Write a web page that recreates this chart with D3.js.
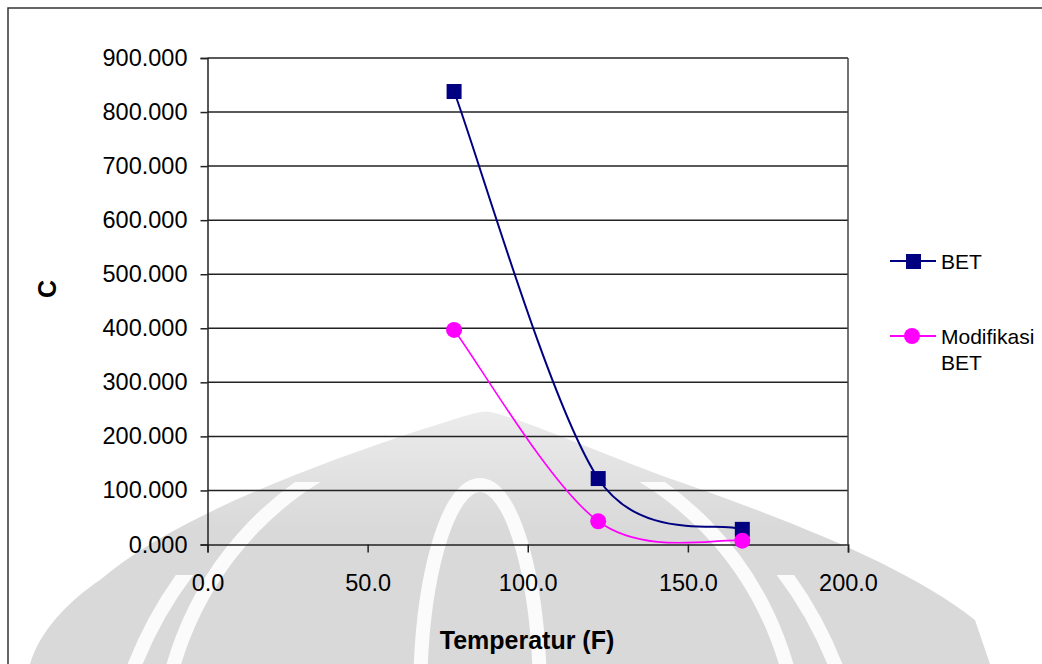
<!DOCTYPE html>
<html>
<head>
<meta charset="utf-8">
<script src="https://cdn.jsdelivr.net/npm/d3@7"></script>
<style>
  body { margin: 0; background: #fff; }
  text { font-family: "Liberation Sans", Arial, sans-serif; }
</style>
</head>
<body>
<svg></svg>
<script>
// data (temperatures 25/50/75 C in F)
const temps = [77, 122, 167];
const betC = [838, 122, 28];
const modC = [397, 43, 7];
const seriesNames = ["BET", "Modifikasi BET"];
const yTicks = [0, 100, 200, 300, 400, 500, 600, 700, 800, 900];
const xTicks = [0, 50, 100, 150, 200];

const W = 1042, H = 664;
const margin = { top: 58, right: 194, bottom: 119.5, left: 207.5 };
const width = W - margin.left - margin.right;
const height = H - margin.top - margin.bottom;

const svg = d3.select("svg").attr("width", W).attr("height", H);

// faint watermark behind the chart
const defs = svg.append("defs");
const grad = defs.append("linearGradient").attr("id", "wmfade")
  .attr("gradientUnits", "userSpaceOnUse").attr("x1", 0).attr("y1", 410).attr("x2", 0).attr("y2", 530);
grad.append("stop").attr("offset", 0).attr("stop-color", "#ececec");
grad.append("stop").attr("offset", 1).attr("stop-color", "#d9d9d9");
defs.append("clipPath").attr("id", "lowclip").append("rect")
  .attr("x", 0).attr("y", 482).attr("width", W).attr("height", 200);
defs.append("clipPath").attr("id", "lowclip2").append("rect")
  .attr("x", 0).attr("y", 575).attr("width", W).attr("height", 100);

const wm = svg.append("g").attr("id", "watermark");
wm.append("path")
  .attr("d", "M30,664 C40,630 70,600 100,580 C170,520 300,470 420,430 C460,418 478,410 490,412 C520,418 580,445 660,475 C760,510 900,560 975,620 L990,664 Z")
  .attr("fill", "url(#wmfade)");
const stripes = [
  { cx: 480, cy: 700, rx: 60, ry: 215, clip: null },
  { cx: 480, cy: 760, rx: 320, ry: 330, clip: "url(#lowclip)" },
  { cx: 485, cy: 820, rx: 380, ry: 400, clip: "url(#lowclip2)" }
];
wm.selectAll("ellipse").data(stripes).join("ellipse")
  .attr("cx", d => d.cx).attr("cy", d => d.cy).attr("rx", d => d.rx).attr("ry", d => d.ry)
  .attr("clip-path", d => d.clip)
  .attr("fill", "none").attr("stroke", "#fbfbfb").attr("stroke-width", 14);

// chart area border
svg.append("rect")
  .attr("x", 8).attr("y", 8).attr("width", W + 10).attr("height", H + 10)
  .attr("fill", "none").attr("stroke", "#333").attr("stroke-width", 1.5);

const plot = svg.append("g").attr("transform", `translate(${margin.left}, ${margin.top})`);

const x = d3.scaleLinear().domain([0, 200]).range([0, width]);
const y = d3.scaleLinear().domain([0, 900]).range([height, 0]);

// gridlines
plot.append("g").selectAll("line").data(yTicks.slice(1)).join("line")
  .attr("x1", 0).attr("x2", width)
  .attr("y1", d => y(d)).attr("y2", d => y(d))
  .attr("stroke", "#222").attr("stroke-width", 1.5);

// right border of plot area
plot.append("line")
  .attr("x1", width).attr("x2", width).attr("y1", 0).attr("y2", height)
  .attr("stroke", "#444").attr("stroke-width", 1.5);

const yAxis = plot.append("g")
  .call(d3.axisLeft(y).tickValues(yTicks).tickFormat(d3.format(".3f")).tickSize(7).tickPadding(13));
const xAxis = plot.append("g")
  .attr("transform", `translate(0, ${height})`)
  .call(d3.axisBottom(x).tickValues(xTicks).tickFormat(d3.format(".1f")).tickSize(8).tickPadding(22));

[yAxis, xAxis].forEach(a => {
  a.select(".domain").attr("stroke", "#222").attr("stroke-width", 1.5);
  a.selectAll(".tick line").attr("stroke", "#222").attr("stroke-width", 1.5);
  a.selectAll("text").attr("font-size", 23.5).attr("fill", "#000")
    .style("font-family", "'Liberation Sans', Arial, sans-serif");
});

// axis titles
svg.append("text")
  .attr("x", 527).attr("y", 649)
  .attr("text-anchor", "middle").attr("font-size", 25).attr("font-weight", "bold")
  .text("Temperatur (F)");
svg.append("text")
  .attr("transform", "translate(56, 289) rotate(-90)")
  .attr("text-anchor", "middle").attr("font-size", 25).attr("font-weight", "bold")
  .text("C");

// spreadsheet-style smoothed line: bezier with 1/6 tangents, capped at half a segment
function smoothPath(data) {
  const pts = data.map(d => [x(d[0]), y(d[1])]);
  const dist = (a, b) => Math.hypot(b[0] - a[0], b[1] - a[1]);
  const p = d3.path();
  p.moveTo(pts[0][0], pts[0][1]);
  for (let i = 0; i < pts.length - 1; i++) {
    const p0 = pts[i - 1] || pts[i], p1 = pts[i], p2 = pts[i + 1], p3 = pts[i + 2] || pts[i + 1];
    const d12 = dist(p1, p2), d02 = dist(p0, p2), d13 = dist(p1, p3);
    let f1 = 1 / 6, f2 = 1 / 6;
    if (d02 * f1 > d12 / 2) f1 = d12 / (2 * d02);
    if (d13 * f2 > d12 / 2) f2 = d12 / (2 * d13);
    p.bezierCurveTo(
      p1[0] + f1 * (p2[0] - p0[0]), p1[1] + f1 * (p2[1] - p0[1]),
      p2[0] - f2 * (p3[0] - p1[0]), p2[1] - f2 * (p3[1] - p1[1]),
      p2[0], p2[1]);
  }
  return p.toString();
}

const betPts = temps.map((t, i) => [t, betC[i]]);
const modPts = temps.map((t, i) => [t, modC[i]]);

plot.append("path").datum(betPts).attr("d", smoothPath)
  .attr("fill", "none").attr("stroke", "#000080").attr("stroke-width", 2);
plot.append("path").datum(modPts).attr("d", smoothPath)
  .attr("fill", "none").attr("stroke", "#ff00ff").attr("stroke-width", 1.6);

plot.append("g").selectAll("rect").data(betPts).join("rect")
  .attr("x", d => x(d[0]) - 7.5).attr("y", d => y(d[1]) - 7.5)
  .attr("width", 15).attr("height", 15).attr("fill", "#000080");
plot.append("g").selectAll("circle").data(modPts).join("circle")
  .attr("cx", d => x(d[0])).attr("cy", d => y(d[1])).attr("r", 8)
  .attr("fill", "#ff00ff");

// legend
const legend = svg.append("g");
legend.append("line").attr("x1", 890).attr("x2", 936).attr("y1", 261).attr("y2", 261)
  .attr("stroke", "#000080").attr("stroke-width", 2);
legend.append("rect").attr("x", 906).attr("y", 254).attr("width", 15).attr("height", 15)
  .attr("fill", "#000080");
legend.append("text").attr("x", 941).attr("y", 269).attr("font-size", 21).text(seriesNames[0]);

legend.append("line").attr("x1", 890).attr("x2", 936).attr("y1", 336).attr("y2", 336)
  .attr("stroke", "#ff00ff").attr("stroke-width", 2);
legend.append("circle").attr("cx", 912).attr("cy", 336).attr("r", 8).attr("fill", "#ff00ff");
legend.append("text").attr("x", 941).attr("y", 344).attr("font-size", 21).text("Modifikasi");
legend.append("text").attr("x", 941).attr("y", 370).attr("font-size", 21).text("BET");
</script>
</body>
</html>
